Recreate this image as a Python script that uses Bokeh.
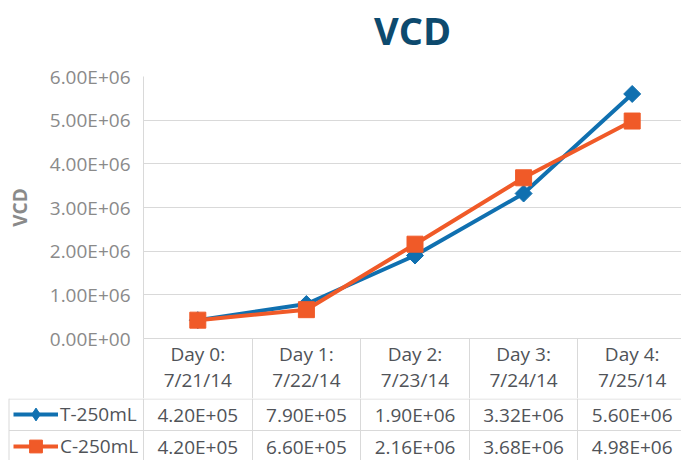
import math
from bokeh.plotting import figure
from bokeh.models import Range1d, FixedTicker, Grid, Legend, LegendItem
from bokeh.core.properties import value
from bokeh.embed import file_html
from bokeh.resources import INLINE

# ---------------- data ----------------
days = ["Day 0:", "Day 1:", "Day 2:", "Day 3:", "Day 4:"]
dates = ["7/21/14", "7/22/14", "7/23/14", "7/24/14", "7/25/14"]
t_250 = [4.20e5, 7.90e5, 1.90e6, 3.32e6, 5.60e6]
c_250 = [4.20e5, 6.60e5, 2.16e6, 3.68e6, 4.98e6]
series_names = ["T-250mL", "C-250mL"]
y_ticks = [0, 1000000, 2000000, 3000000, 4000000, 5000000, 6000000]
title_text = "VCD"
y_label = "VCD"


def sci(v):
    return f"{v:.2E}"


# ---------------- style / layout ----------------
BLUE = "#1070b0"
ORANGE = "#f05a28"
GRID = "#d9d9d9"
TICK_COLOR = "#8a8a8a"
TABLE_TEXT = "#505358"
TITLE_COLOR = "#0d4a6e"
FONT = "Open Sans"
FS = "19px"

W = 681
LEFT = 143            # left edge of the plot frame
TITLE_H = 60          # height of the title strip
TOP_PAD = 16          # space above the plot frame inside the chart
FRAME_H = 262
HDR_H = 60            # header row (category axis)
TOP_H = TOP_PAD + FRAME_H + HDR_H
ROW_H = 32
BOT_H = 460 - TITLE_H - TOP_H
TABLE_LEFT = 8
COL_W = 108.6
TITLE_MID = 29

n = len(days)
xpos = [i + 0.5 for i in range(n)]
bounds = list(range(n + 1))
x_end = (W - LEFT) / COL_W

# ---------------- title strip ----------------
p0 = figure(width=W, height=TITLE_H, x_range=Range1d(0, W), y_range=Range1d(TITLE_H, 0),
            output_backend="svg", toolbar_location=None, title=None,
            x_axis_location=None, y_axis_location=None,
            min_border=0, min_border_left=0, min_border_right=0,
            min_border_top=0, min_border_bottom=0)
p0.outline_line_color = None
p0.grid.visible = False
p0.text(x=[(W + LEFT) / 2], y=[TITLE_MID], text=[title_text],
        text_align="center", text_baseline="middle",
        text_font=value(FONT), text_font_size="38px", text_font_style="bold",
        text_color=TITLE_COLOR)

# ---------------- chart ----------------
p = figure(width=W, height=TOP_H, x_range=Range1d(0, x_end),
           y_range=Range1d(0, y_ticks[-1]),
           output_backend="svg", toolbar_location=None, title=None,
           min_border_left=LEFT, min_border_right=0,
           min_border_bottom=HDR_H, min_border_top=TOP_PAD)
p.outline_line_color = None
p.background_fill_color = "white"
p.border_fill_color = "white"

# y axis
p.yaxis.ticker = FixedTicker(ticks=y_ticks)
p.yaxis.major_label_overrides = {t: sci(t) for t in y_ticks}
p.yaxis.axis_line_color = GRID
p.yaxis.major_tick_line_color = None
p.yaxis.minor_tick_line_color = None
p.yaxis.major_label_text_font = FONT
p.yaxis.major_label_text_font_size = FS
p.yaxis.major_label_text_color = TICK_COLOR
p.yaxis.major_label_standoff = 7
p.yaxis.axis_label = y_label
p.yaxis.axis_label_text_font = FONT
p.yaxis.axis_label_text_font_size = "19px"
p.yaxis.axis_label_text_font_style = "bold"
p.yaxis.axis_label_text_color = TICK_COLOR
p.yaxis.axis_label_standoff = 14

# category axis = header row of the data table
p.xaxis.ticker = FixedTicker(ticks=xpos, minor_ticks=bounds)
p.xaxis.major_label_overrides = {x: f"{d}\n{dt}" for x, d, dt in zip(xpos, days, dates)}
p.xaxis.axis_line_color = GRID
p.xaxis.major_tick_line_color = None
p.xaxis.major_tick_out = 0
p.xaxis.major_tick_in = 0
p.xaxis.minor_tick_line_color = GRID
p.xaxis.minor_tick_out = HDR_H
p.xaxis.minor_tick_in = 0
p.xaxis.major_label_text_font = FONT
p.xaxis.major_label_text_font_size = FS
p.xaxis.major_label_text_color = TABLE_TEXT
p.xaxis.major_label_text_line_height = 1.0
p.xaxis.major_label_standoff = -58

p.ygrid.ticker = FixedTicker(ticks=y_ticks)
p.ygrid.grid_line_color = GRID
p.ygrid.grid_line_width = 1
p.xgrid.visible = False

p.line(xpos, t_250, line_color=BLUE, line_width=4)
p.scatter(xpos, t_250, marker="square", angle=math.pi / 4, size=12,
          fill_color=BLUE, line_color=BLUE)
p.line(xpos, c_250, line_color=ORANGE, line_width=4)
p.scatter(xpos, c_250, marker="square", size=16,
          fill_color=ORANGE, line_color=ORANGE)

# ---------------- data table rows ----------------
x_start = -LEFT / COL_W
x_border = -(LEFT - TABLE_LEFT - 0.5) / COL_W
p2 = figure(width=W, height=BOT_H, x_range=Range1d(x_start, x_end),
            y_range=Range1d(BOT_H, 0),
            output_backend="svg", toolbar_location=None, title=None,
            x_axis_location=None, y_axis_location=None,
            min_border=0, min_border_left=0, min_border_right=0,
            min_border_top=0, min_border_bottom=0)
p2.outline_line_color = None
p2.grid.visible = False

p2.add_layout(Grid(dimension=0, ticker=FixedTicker(ticks=bounds),
                   grid_line_color=GRID, grid_line_width=1))
row_lines = [0.5, ROW_H]
p2.segment(x0=[x_border] * 2, y0=row_lines, x1=[x_end] * 2, y1=row_lines,
           line_color=GRID, line_width=1)
p2.segment(x0=[x_border], y0=[0], x1=[x_border], y1=[BOT_H],
           line_color=GRID, line_width=1)

txt = dict(text_font=value(FONT), text_font_size=FS, text_color=TABLE_TEXT,
           text_align="center", text_baseline="middle")
p2.text(x=xpos, y=[ROW_H / 2] * n, text=[sci(v) for v in t_250], **txt)
p2.text(x=xpos, y=[ROW_H * 1.5] * n, text=[sci(v) for v in c_250], **txt)

# hidden copies of the series so the legend keys can be drawn in the table
lt = p2.line(xpos, t_250, line_color=BLUE, line_width=4, visible=False)
mt = p2.scatter(xpos, t_250, marker="diamond", size=16, fill_color=BLUE,
                line_color=BLUE, visible=False)
lc = p2.line(xpos, c_250, line_color=ORANGE, line_width=4, visible=False)
mc = p2.scatter(xpos, c_250, marker="square", size=16, fill_color=ORANGE,
                line_color=ORANGE, visible=False)

legend = Legend(items=[LegendItem(label=series_names[0], renderers=[lt, mt]),
                       LegendItem(label=series_names[1], renderers=[lc, mc])],
                location=(13, BOT_H - 2 * ROW_H),
                glyph_width=45, glyph_height=ROW_H, label_height=ROW_H,
                label_standoff=2, spacing=0, padding=0, margin=0,
                border_line_color=None, background_fill_alpha=0,
                inactive_fill_alpha=0,
                label_text_font=FONT, label_text_font_size=FS,
                label_text_color=TABLE_TEXT)
p2.add_layout(legend)

open("out.html", "w").write(file_html([p0, p, p2], INLINE))
